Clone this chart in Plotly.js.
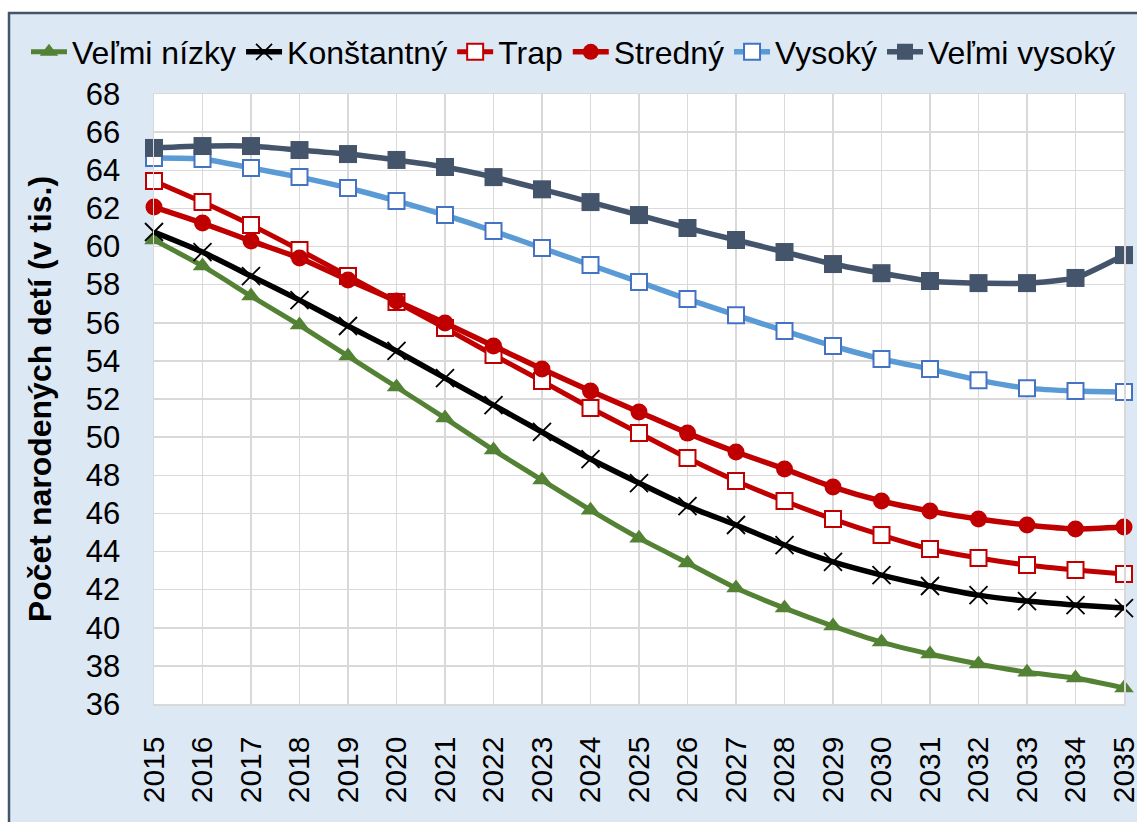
<!DOCTYPE html>
<html>
<head>
<meta charset="utf-8">
<script src="https://cdn.plot.ly/plotly-3.0.1.min.js"></script>
<style>
  html, body { margin: 0; padding: 0; background: #ffffff; }
  #chart { width: 1137px; height: 822px; }
</style>
</head>
<body>
<div id="chart"></div>
<script>
const years = [2015, 2016, 2017, 2018, 2019, 2020, 2021, 2022, 2023, 2024, 2025, 2026, 2027, 2028, 2029, 2030, 2031, 2032, 2033, 2034, 2035];
const seriesNames = ["Veľmi nízky", "Konštantný", "Trap", "Stredný", "Vysoký", "Veľmi vysoký"];
const velmiNizky  = [60.34, 58.98, 57.40, 55.88, 54.25, 52.63, 51.00, 49.32, 47.75, 46.17, 44.70, 43.40, 42.08, 41.03, 40.09, 39.25, 38.62, 38.10, 37.67, 37.36, 36.84];
const konstantny  = [60.76, 59.71, 58.45, 57.19, 55.83, 54.52, 53.10, 51.68, 50.27, 48.85, 47.59, 46.38, 45.39, 44.34, 43.45, 42.76, 42.19, 41.71, 41.40, 41.19, 41.03];
const trap        = [63.44, 62.33, 61.13, 59.82, 58.45, 57.09, 55.72, 54.31, 52.94, 51.53, 50.21, 48.90, 47.70, 46.65, 45.70, 44.86, 44.13, 43.66, 43.29, 43.03, 42.82];
const stredny     = [62.07, 61.23, 60.29, 59.40, 58.24, 57.14, 55.99, 54.78, 53.57, 52.42, 51.32, 50.21, 49.22, 48.33, 47.38, 46.65, 46.12, 45.70, 45.39, 45.18, 45.28];
const vysoky      = [64.64, 64.59, 64.12, 63.64, 63.07, 62.39, 61.65, 60.81, 59.92, 59.03, 58.14, 57.24, 56.40, 55.57, 54.78, 54.10, 53.57, 52.99, 52.57, 52.42, 52.37];
const velmiVysoky = [65.17, 65.27, 65.27, 65.06, 64.85, 64.54, 64.17, 63.64, 63.00, 62.33, 61.65, 60.97, 60.34, 59.71, 59.08, 58.60, 58.19, 58.08, 58.08, 58.35, 59.55];
const yTicks = [36, 38, 40, 42, 44, 46, 48, 50, 52, 54, 56, 58, 60, 62, 64, 66, 68];
const xTickLabels = years.map(String);

const FONT = "Liberation Sans, Arial, sans-serif";

function mk(name, y, lineColor, lineWidth, marker) {
  return {
    type: "scatter", mode: "lines+markers", name: name,
    x: years, y: y, cliponaxis: false,
    line: { color: lineColor, width: lineWidth, shape: "spline", smoothing: 0.5 },
    marker: marker
  };
}

const data = [
  mk(seriesNames[0], velmiNizky, "#548235", 5, { symbol: "triangle-up", size: 17, color: "#548235" }),
  mk(seriesNames[1], konstantny, "#000000", 5.5, { symbol: "x-thin-open", size: 18, color: "#000000", line: { color: "#000000", width: 1.8 } }),
  mk(seriesNames[2], trap, "#c00000", 5, { symbol: "square", size: 16, color: "#ffffff", line: { color: "#c00000", width: 2 } }),
  mk(seriesNames[3], stredny, "#c00000", 5.5, { symbol: "circle", size: 17, color: "#c00000" }),
  mk(seriesNames[4], vysoky, "#5b9bd5", 5.5, { symbol: "square", size: 16, color: "#ffffff", line: { color: "#4472c4", width: 2 } }),
  mk(seriesNames[5], velmiVysoky, "#44546a", 5.5, { symbol: "square", size: 18, color: "#44546a" })
];

// paper-coordinate helpers (plot area: x 154..1124 px, y 94..704 px)
const px = v => (v - 154) / 970;
const py = v => (704 - v) / 610;

const layout = {
  width: 1137, height: 822,
  margin: { l: 154, r: 13, t: 94, b: 118, autoexpand: false },
  paper_bgcolor: "#dde8f5",
  plot_bgcolor: "#ffffff",
  font: { family: FONT, color: "#000000", size: 30 },
  showlegend: true,
  legend: {
    orientation: "h", xref: "paper", yref: "paper",
    x: px(26), xanchor: "left", y: py(52), yanchor: "middle",
    font: { family: FONT, size: 32, color: "#000000" },
    bgcolor: "rgba(0,0,0,0)", traceorder: "normal", itemwidth: 36, tracegroupgap: 0
  },
  xaxis: {
    range: [2015, 2035], tickvals: years, ticktext: xTickLabels,
    tickangle: -90, tickfont: { family: FONT, size: 30, color: "#000000" },
    ticklabeloverflow: "allow",
    showgrid: true, gridcolor: "#d9d9d9", gridwidth: 1.5,
    showline: true, mirror: true, linecolor: "#d9d9d9", linewidth: 1.5,
    ticks: "", ticklabelstandoff: 19, zeroline: false, fixedrange: true, automargin: false
  },
  yaxis: {
    range: [36, 68], tickvals: yTicks, ticktext: yTicks.map(String),
    tickfont: { family: FONT, size: 31, color: "#000000" },
    showgrid: true, gridcolor: "#d9d9d9", gridwidth: 1.5,
    showline: true, mirror: true, linecolor: "#d9d9d9", linewidth: 1.5,
    ticks: "", ticklabelstandoff: 26, zeroline: false, fixedrange: true, automargin: false,
    title: { text: "Počet narodených detí (v tis.)", standoff: 24,
             font: { family: FONT, size: 32, color: "#000000", weight: "bold" } }
  },
  shapes: [
    { type: "rect", xref: "paper", yref: "paper", x0: px(-5), x1: px(1145), y0: py(12), y1: py(-5),
      fillcolor: "#ffffff", line: { width: 0 }, layer: "above" },
    { type: "rect", xref: "paper", yref: "paper", x0: px(-5), x1: px(8), y0: py(830), y1: py(-5),
      fillcolor: "#ffffff", line: { width: 0 }, layer: "above" },
    { type: "line", xref: "paper", yref: "paper", x0: px(8), x1: px(1145), y0: py(13), y1: py(13),
      line: { color: "#44546a", width: 2.5 }, layer: "above" },
    { type: "line", xref: "paper", yref: "paper", x0: px(9), x1: px(9), y0: py(12), y1: py(830),
      line: { color: "#44546a", width: 2.5 }, layer: "above" }
  ]
};

Plotly.newPlot("chart", data, layout, { displayModeBar: false, staticPlot: true });
</script>
</body>
</html>
